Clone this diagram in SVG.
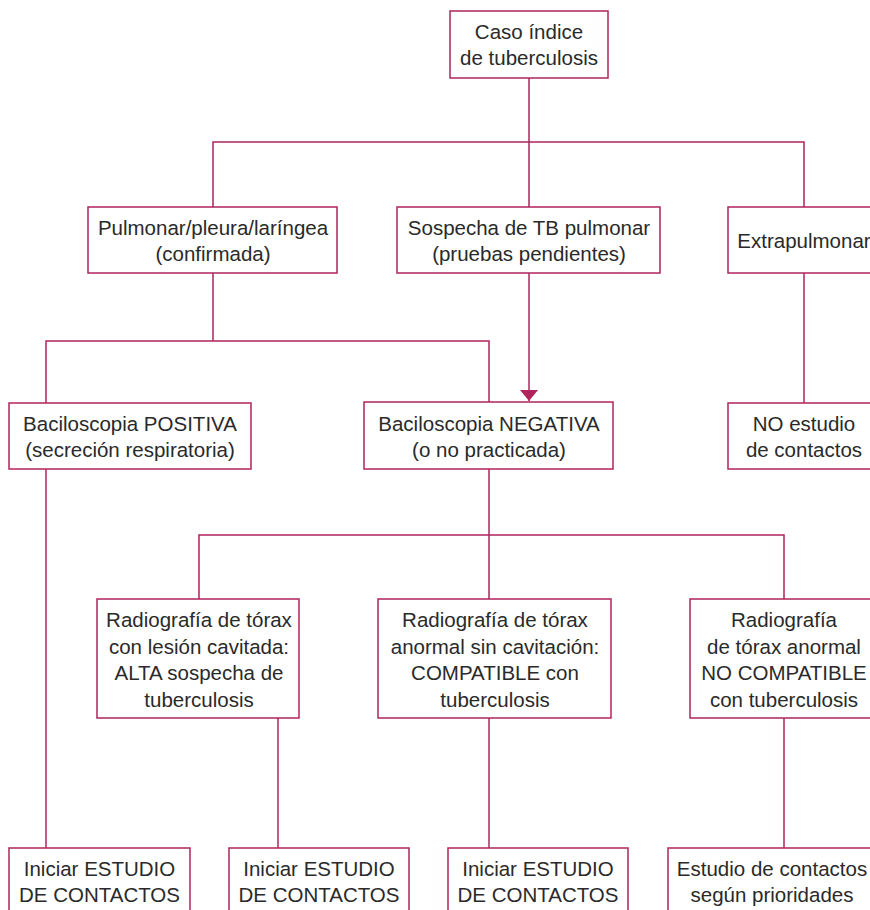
<svg xmlns="http://www.w3.org/2000/svg" width="870" height="910" viewBox="0 0 870 910">
<style>
.box{fill:#fff;stroke:#b0245c;stroke-width:1.5}
.c{fill:none;stroke:#b0245c;stroke-width:1.5}
text{font-family:"Liberation Sans",Arial,sans-serif;font-size:20.5px;fill:#2a2a2a;text-anchor:middle}
</style>
<defs>
<marker id="ah" viewBox="0 0 11 18" refX="11" refY="9" markerWidth="11" markerHeight="18" markerUnits="userSpaceOnUse" orient="auto"><path d="M0,0 L11,9 L0,18 Z" fill="#b0245c"/></marker>
</defs>
<rect width="870" height="910" fill="#fff"/>
<g id="connectors">
<path class="c" d="M529,78 V207 M213,207 V142 H804 V207"/>
<path class="c" d="M529,273 V401" marker-end="url(#ah)"/>
<path class="c" d="M213,273 V341 M46,403 V341 H489 V402"/>
<path class="c" d="M804,273 V403"/>
<path class="c" d="M489,469 V599 M199,599 V535 H784 V599"/>
<path class="c" d="M46,469 V848"/>
<path class="c" d="M278,718 V848"/>
<path class="c" d="M489,718 V848"/>
<path class="c" d="M784,718 V848"/>
</g>
<g id="n_caso"><rect class="box" x="450" y="11" width="158" height="67"/><text x="529" y="39">Caso índice</text><text x="529" y="65">de tuberculosis</text></g>
<g id="n_pulmonar"><rect class="box" x="88" y="207" width="249" height="66"/><text x="213" y="235">Pulmonar/pleura/laríngea</text><text x="213" y="261">(confirmada)</text></g>
<g id="n_sospecha"><rect class="box" x="397" y="207" width="263" height="66"/><text x="529" y="235">Sospecha de TB pulmonar</text><text x="529" y="261">(pruebas pendientes)</text></g>
<g id="n_extra"><rect class="box" x="728" y="207" width="152" height="66"/><text x="804" y="248">Extrapulmonar</text></g>
<g id="n_positiva"><rect class="box" x="9" y="403" width="242" height="66"/><text x="130" y="431">Baciloscopia POSITIVA</text><text x="130" y="457">(secreción respiratoria)</text></g>
<g id="n_negativa"><rect class="box" x="364" y="402" width="249" height="67"/><text x="489" y="431">Baciloscopia NEGATIVA</text><text x="489" y="457">(o no practicada)</text></g>
<g id="n_noestudio"><rect class="box" x="728" y="403" width="152" height="66"/><text x="804" y="431">NO estudio</text><text x="804" y="457">de contactos</text></g>
<g id="n_rx1"><rect class="box" x="97" y="599" width="202" height="119"/><text x="199" y="627">Radiografía de tórax</text><text x="199" y="653.5">con lesión cavitada:</text><text x="199" y="680">ALTA sospecha de</text><text x="199" y="706.5">tuberculosis</text></g>
<g id="n_rx2"><rect class="box" x="378" y="599" width="233" height="119"/><text x="495" y="627">Radiografía de tórax</text><text x="495" y="653.5">anormal sin cavitación:</text><text x="495" y="680">COMPATIBLE con</text><text x="495" y="706.5">tuberculosis</text></g>
<g id="n_rx3"><rect class="box" x="690" y="599" width="190" height="119"/><text x="784" y="627">Radiografía</text><text x="784" y="653.5">de tórax anormal</text><text x="784" y="680">NO COMPATIBLE</text><text x="784" y="706.5">con tuberculosis</text></g>
<g id="n_ini1"><rect class="box" x="9" y="848" width="181" height="70"/><text x="99.5" y="876">Iniciar ESTUDIO</text><text x="99.5" y="902">DE CONTACTOS</text></g>
<g id="n_ini2"><rect class="box" x="229" y="848" width="180" height="70"/><text x="319" y="876">Iniciar ESTUDIO</text><text x="319" y="902">DE CONTACTOS</text></g>
<g id="n_ini3"><rect class="box" x="448" y="848" width="180" height="70"/><text x="538" y="876">Iniciar ESTUDIO</text><text x="538" y="902">DE CONTACTOS</text></g>
<g id="n_prior"><rect class="box" x="668" y="848" width="212" height="70"/><text x="772" y="876">Estudio de contactos</text><text x="772" y="902">según prioridades</text></g>
</svg>
